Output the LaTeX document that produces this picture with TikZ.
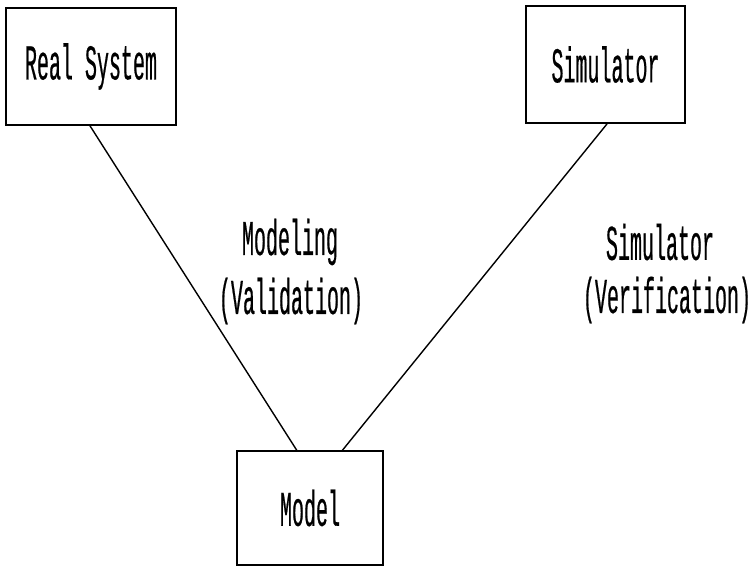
\documentclass[tikz,border=0pt]{standalone}
\usepackage{fontspec}
\usetikzlibrary{calc}
\newfontfamily\typewriter[FakeStretch=0.40, FakeBold=0.4]{Liberation Mono}
\tikzset{
  block/.style={draw, line width=1.6pt, rectangle, inner sep=0pt},
  link/.style={line width=1.4pt},
  caption/.style={font=\typewriter\fontsize{50}{60}\selectfont, align=center, inner sep=0pt}
}
\begin{document}
\begin{tikzpicture}[x=1pt, y=-1pt]
  \useasboundingbox (0,0) rectangle (752,567);
  % the three boxes
  \node[block, minimum width=170pt, minimum height=117pt, caption] (rs) at (91,66.5) {Real System};
  \node[block, minimum width=159pt, minimum height=117pt, caption] (sim) at (605.5,64.5) {Simulator};
  \node[block, minimum width=146pt, minimum height=114pt, caption] (mod) at (310,508) {Model};
  % attachment points on the box edges
  \coordinate (rsB) at ($(rs.south west)!0.494!(rs.south east)$);
  \coordinate (simB) at ($(sim.south west)!0.51!(sim.south east)$);
  \coordinate (modL) at ($(mod.north west)!0.41!(mod.north east)$);
  \coordinate (modR) at ($(mod.north west)!0.72!(mod.north east)$);
  \draw[link] (rsB) -- (modL);
  \draw[link] (simB) -- (modR);
  % labels of the two relations
  \node[caption] (lblA) at (290,242) {Modeling};
  \node[caption] (lblA2) at (291,301) {(Validation)};
  \node[caption] (lblB) at (660,242) {Simulator};
  \node[caption] (lblB2) at (667,300) {(Verification)};
\end{tikzpicture}
\end{document}
